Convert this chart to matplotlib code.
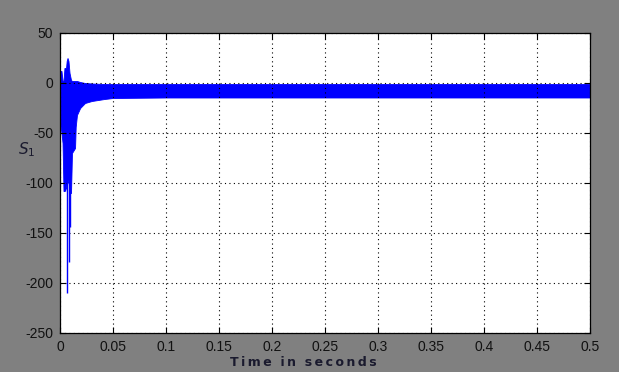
import numpy as np
import matplotlib
matplotlib.use("Agg")
import matplotlib.pyplot as plt

# envelope of the fast oscillating signal s1
t_env = [0.0, 0.0014, 0.0024, 0.0033, 0.0042, 0.0057, 0.0063, 0.0071, 0.0080,
         0.0090, 0.0104, 0.0113, 0.0142, 0.0148, 0.0160, 0.0190, 0.0236,
         0.0300, 0.0420, 0.0500, 0.1000, 0.5000]
s_upper = [12, 12, 2, 2, 15, 15, 22, 25, 22, 10, 3, 2, 2, 2, 2, 1, 0,
           -0.5, -1, -1, -1, -1]
s_lower = [-40, -50, -60, -108, -108, -105, -100, -100, -97, -110, -110, -70,
           -65, -44, -32, -25, -20, -18, -16, -15, -14.5, -14.5]

# narrow negative spikes in the transient
spike_t = [0.0044, 0.0069, 0.0088, 0.0097]
spike_min = [-108, -210, -179, -144]

xticks = [0, 0.05, 0.1, 0.15, 0.2, 0.25, 0.3, 0.35, 0.4, 0.45, 0.5]
xlabels = ["0", "0.05", "0.1", "0.15", "0.2", "0.25", "0.3", "0.35", "0.4",
           "0.45", "0.5"]
yticks = [-250, -200, -150, -100, -50, 0, 50]

plt.rcParams["font.family"] = ["Liberation Sans", "DejaVu Sans"]
plt.rcParams["axes.unicode_minus"] = False

fig = plt.figure(figsize=(6.19, 3.72), dpi=100, facecolor="#808080")
ax = fig.add_axes([60 / 619, 1 - 333 / 372, 530 / 619, 300 / 372])
ax.set_facecolor("white")

ax.fill_between(t_env, s_lower, s_upper, color="#0000ff", linewidth=0.6,
                edgecolor="#0000ff")
ax.vlines(spike_t, [-60] * len(spike_t), spike_min, color="#0000ff",
          linewidth=1.0)

ax.set_xlim(0, 0.5)
ax.set_ylim(-250, 50)
ax.set_xticks(xticks)
ax.set_xticklabels(xlabels)
ax.set_yticks(yticks)
ax.tick_params(direction="in", top=True, right=True, length=4, width=0.8,
               labelsize=10, labelcolor="#111111", pad=5)
ax.grid(True, color="black", linestyle=(0, (1, 3)), linewidth=0.8)
for sp in ax.spines.values():
    sp.set_linewidth(0.9)
    sp.set_color("black")

xlab = "\u2009".join("Time") + "  " + "\u2009".join("in") + "  " + "\u2009".join("seconds")
fig.text(303 / 619, 1 - 362 / 372, xlab,
         ha="center", va="center", fontsize=9, fontweight="bold",
         color="#1a1a2e", family="DejaVu Sans")
fig.text(27 / 619, 1 - 150 / 372, "$S_1$", ha="center", va="center",
         fontsize=11, color="#1a1a2e", family="DejaVu Serif")

fig.savefig("out.png", dpi=100, facecolor=fig.get_facecolor())
